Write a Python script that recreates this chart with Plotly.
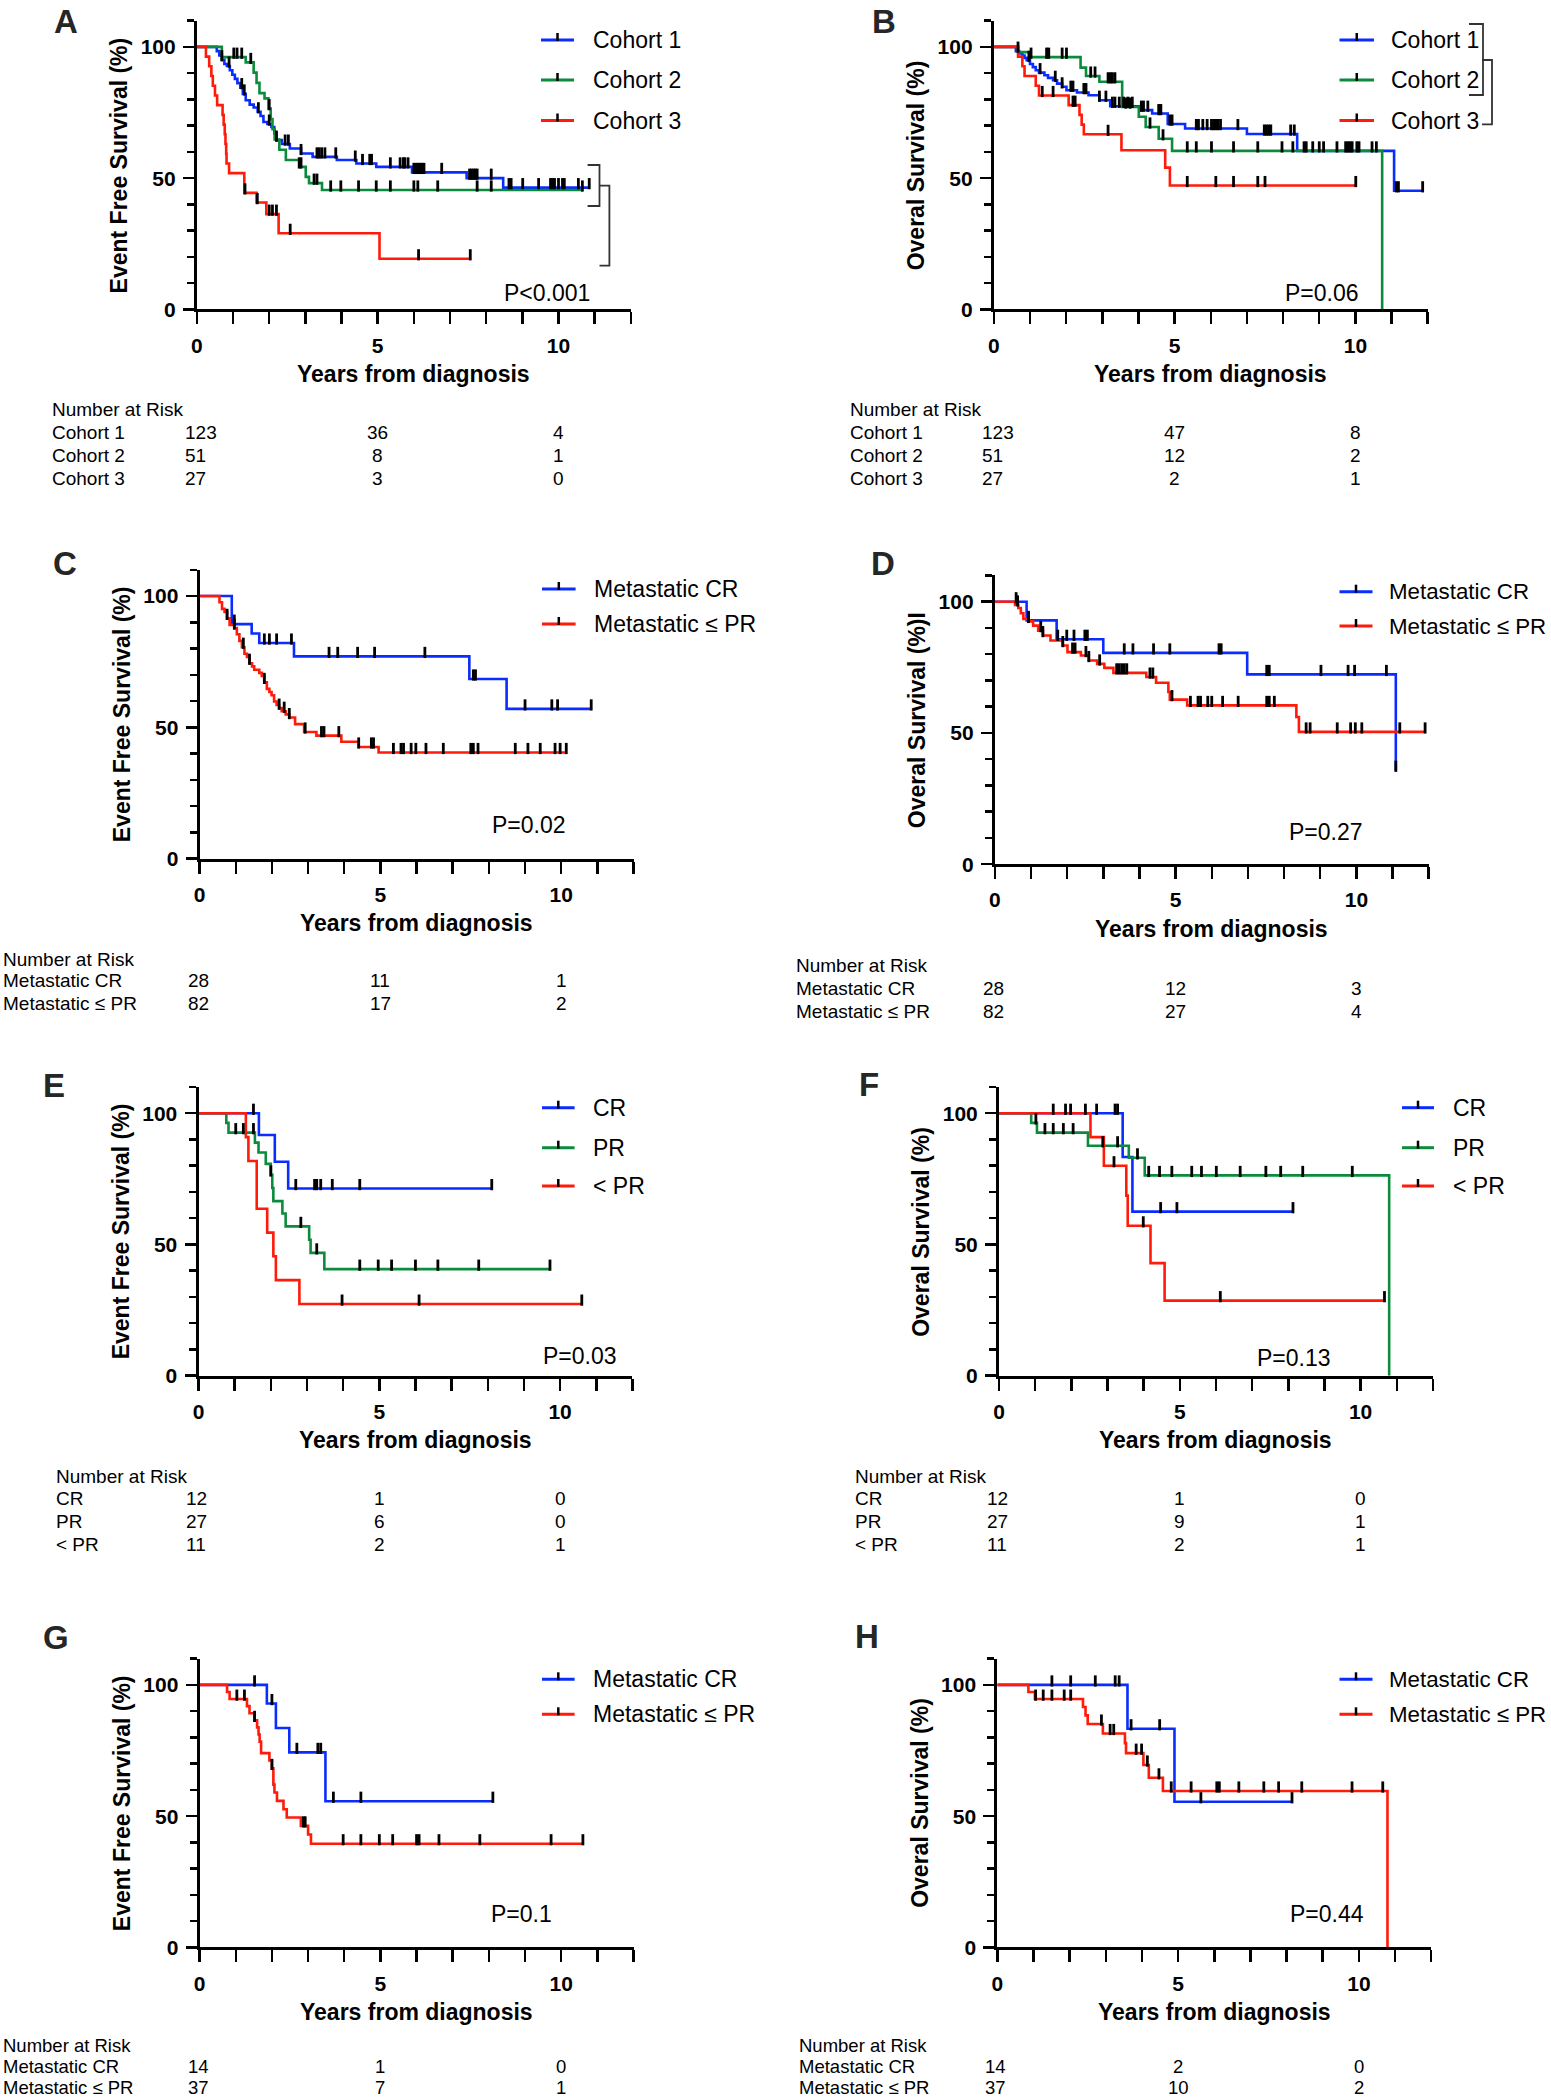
import plotly.graph_objects as go

W, H = 1551, 2100
FONT = "Liberation Sans, Arial, Helvetica, sans-serif"
BLUE, GREEN, RED = "#0a2cff", "#0a8c3c", "#ff1a0a"
PX_PER_YEAR = 36.16
PX_PER_PCT = 2.625
X_MAX, Y_MAX = 12, 110
MARK_LIFT = 1.5

# ---------------- data ----------------
RISK_TIMES = [0, 5, 10]

# Panel A  (EFS by cohort)
A_C1_T = [0, 0.55, 0.62, 0.69, 0.76, 0.83, 0.91, 0.98, 1.05, 1.12, 1.2, 1.27, 1.35, 1.46, 1.57, 1.68, 1.76, 1.84, 1.95, 2.06, 2.14, 2.2, 2.35, 2.57, 2.88, 3.2, 3.87, 4.41, 4.96, 5.95, 7.46, 8.47]
A_C1_S = [100, 98.4, 96.7, 95.1, 93.5, 92.7, 91.1, 89.4, 87.8, 86.2, 84.5, 82.1, 79.7, 78.0, 76.9, 75.3, 73.7, 71.4, 70.6, 69.5, 67.0, 64.5, 63.0, 61.3, 59.4, 58.1, 56.9, 55.6, 54.3, 52.2, 50.0, 46.4]
A_C1_END = 10.85
A_C1_CENS = [0.69, 0.89, 1.24, 1.31, 1.70, 2.0, 2.2, 2.44, 2.53, 2.88, 3.32, 3.38, 3.45, 3.54, 3.84, 4.38, 4.58, 4.78, 4.83, 5.35, 5.62, 5.71, 5.75, 5.84, 6.0, 6.06, 6.11, 6.17, 6.22, 6.28, 6.77, 7.54, 7.59, 7.65, 7.7, 7.75, 8.14, 8.63, 8.69, 9.01, 9.45, 9.78, 9.84, 9.89, 10.0, 10.11, 10.16, 10.55, 10.85]
A_C2_T = [0, 0.69, 1.35, 1.57, 1.65, 1.73, 1.87, 1.98, 2.04, 2.09, 2.15, 2.28, 2.46, 2.83, 3.01, 3.1, 3.46]
A_C2_S = [100, 96.1, 94.1, 90.2, 86.3, 82.4, 80.4, 76.5, 72.5, 68.6, 64.7, 60.8, 56.9, 54.3, 50.5, 48.1, 45.5]
A_C2_END = 10.66
A_C2_CENS = [1.02, 1.11, 1.24, 1.49, 2.0, 2.83, 2.88, 3.24, 3.32, 3.7, 3.98, 4.47, 4.96, 5.35, 6.0, 6.11, 6.66, 7.75, 8.14, 10.66]
A_C3_T = [0, 0.25, 0.34, 0.4, 0.44, 0.5, 0.56, 0.71, 0.74, 0.77, 0.79, 0.81, 0.82, 0.89, 1.31, 1.65, 1.92, 2.26, 5.05]
A_C3_S = [100, 96.3, 92.6, 88.9, 85.2, 81.5, 77.8, 74.1, 70.4, 66.7, 63.0, 59.3, 55.6, 51.9, 44.4, 40.7, 36.3, 29.0, 19.3]
A_C3_END = 7.56
A_C3_CENS = [1.33, 1.67, 2.0, 2.09, 2.2, 2.58, 6.13, 7.56]
A_RISK = [[123, 36, 4], [51, 8, 1], [27, 3, 0]]

# Panel B  (OS by cohort)
B_C1_T = [0, 0.61, 0.7, 0.79, 0.85, 0.91, 1.0, 1.08, 1.16, 1.25, 1.4, 1.5, 1.64, 1.75, 1.89, 2.01, 2.3, 2.62, 2.92, 3.22, 4.08, 4.38, 4.81, 5.29, 7.0, 8.39, 11.07]
B_C1_S = [100, 98.4, 97.5, 96.7, 95.8, 94.9, 93.5, 92.3, 91.1, 90.2, 89.2, 88.2, 87.3, 86.0, 84.8, 83.5, 82.6, 81.6, 79.7, 77.4, 75.9, 74.6, 70.6, 68.9, 66.8, 60.4, 45.2]
B_C1_END = 11.86
B_C1_CENS = [0.67, 0.97, 1.28, 1.70, 1.89, 2.13, 2.19, 2.49, 2.55, 2.92, 3.10, 3.28, 3.35, 3.47, 3.59, 3.71, 3.83, 4.08, 4.14, 4.26, 4.56, 4.62, 4.87, 4.93, 5.60, 5.66, 5.78, 5.90, 6.02, 6.08, 6.14, 6.20, 6.27, 6.75, 7.48, 7.54, 7.60, 7.66, 8.21, 8.31, 8.58, 8.64, 8.82, 9.0, 9.12, 9.49, 9.73, 9.79, 9.85, 9.91, 10.04, 10.10, 10.46, 10.58, 11.13, 11.19, 11.86]
B_C2_T = [0, 0.67, 1.0, 2.4, 2.55, 2.92, 3.55, 4.01, 4.2, 4.56, 4.93, 10.74]
B_C2_S = [100, 98.0, 96.1, 92.1, 88.9, 86.7, 77.1, 73.4, 69.5, 65.0, 60.4, 0]
B_C2_END = 10.74
B_C2_CENS = [1.03, 1.46, 1.52, 1.89, 2.01, 2.68, 2.80, 3.16, 3.22, 3.28, 3.35, 3.65, 3.77, 4.32, 4.68, 5.35, 5.6, 6.02, 6.63, 7.3, 7.97, 8.27]
B_C3_T = [0, 0.67, 0.79, 0.85, 1.16, 1.25, 2.07, 2.37, 2.43, 2.49, 3.53, 4.74, 4.87]
B_C3_S = [100, 96.3, 92.6, 88.9, 85.2, 81.5, 77.8, 74.1, 70.4, 66.7, 60.6, 54.0, 47.2]
B_C3_END = 10.01
B_C3_CENS = [1.34, 1.64, 2.19, 2.25, 3.16, 5.35, 6.14, 6.63, 7.3, 7.5, 10.01]
B_RISK = [[123, 47, 8], [51, 12, 2], [27, 2, 1]]

# Panel C  (EFS, metastatic)
C_C1_T = [0, 0.89, 1.44, 1.65, 2.61, 7.46, 8.49]
C_C1_S = [100, 89.3, 85.7, 82.1, 77.0, 68.4, 57.0]
C_C1_END = 10.83
C_C1_CENS = [0.96, 1.79, 1.93, 2.13, 2.54, 3.58, 3.82, 4.37, 4.84, 6.23, 7.57, 7.63, 9.0, 9.74, 9.9, 10.83]
C_C2_T = [0, 0.55, 0.62, 0.69, 0.76, 0.83, 0.96, 1.03, 1.1, 1.17, 1.24, 1.31, 1.38, 1.45, 1.51, 1.65, 1.72, 1.79, 1.86, 1.93, 1.99, 2.06, 2.13, 2.2, 2.27, 2.38, 2.48, 2.64, 2.89, 3.23, 3.92, 4.4, 4.95]
C_C2_S = [100, 97.6, 95.1, 93.9, 91.5, 89.0, 87.8, 85.4, 82.9, 80.5, 78.0, 76.8, 74.4, 73.2, 71.9, 70.7, 69.5, 67.1, 64.6, 63.4, 62.2, 59.8, 58.5, 57.3, 56.1, 54.9, 53.7, 51.2, 48.2, 46.8, 44.5, 42.5, 40.4]
C_C2_END = 10.14
C_C2_CENS = [0.76, 0.96, 1.21, 1.38, 1.79, 2.2, 2.34, 2.48, 2.92, 3.37, 3.44, 3.85, 4.4, 4.75, 4.81, 5.36, 5.57, 5.64, 5.85, 5.98, 6.26, 6.74, 7.5, 7.57, 7.7, 8.73, 9.08, 9.42, 9.83, 9.97, 10.14]
C_RISK = [[28, 11, 1], [82, 17, 2]]

# Panel D  (OS, metastatic)
D_C1_T = [0, 0.88, 1.71, 3.0, 6.98, 11.09]
D_C1_S = [100, 92.9, 85.7, 80.5, 72.3, 35.8]
D_C1_END = 11.09
D_C1_CENS = [0.59, 0.93, 1.74, 1.99, 2.19, 2.49, 2.56, 3.58, 3.82, 4.39, 4.84, 6.2, 6.26, 7.52, 7.59, 9.02, 9.77, 9.95, 10.83, 11.09]
D_C2_T = [0, 0.56, 0.65, 0.72, 0.79, 0.93, 1.06, 1.2, 1.33, 1.54, 1.88, 2.01, 2.38, 2.6, 2.83, 3.03, 3.28, 4.19, 4.46, 4.8, 4.84, 5.32, 8.34, 8.41]
D_C2_S = [100, 98.8, 97.6, 95.6, 93.4, 92.5, 90.9, 89.0, 87.1, 85.2, 83.3, 80.8, 79.5, 77.6, 76.3, 74.8, 72.9, 71.3, 69.1, 65.6, 62.7, 60.5, 56.1, 50.4]
D_C2_END = 11.9
D_C2_CENS = [0.63, 0.93, 1.27, 1.33, 1.88, 2.15, 2.22, 2.52, 2.6, 2.9, 3.37, 3.44, 3.51, 3.58, 3.65, 4.29, 4.37, 4.9, 5.41, 5.62, 5.69, 5.89, 6.0, 6.3, 6.73, 7.52, 7.59, 7.73, 8.61, 8.72, 9.47, 9.84, 9.97, 10.15, 11.2, 11.9]
D_RISK = [[28, 12, 3], [82, 27, 4]]

# Panel E  (EFS by response)
E_C1_T = [0, 1.67, 2.11, 2.48]
E_C1_S = [100, 91.7, 81.5, 71.3]
E_C1_END = 8.11
E_C1_CENS = [1.52, 2.69, 3.21, 3.27, 3.38, 3.7, 4.46, 8.11]
E_C2_T = [0, 0.77, 0.83, 1.56, 1.66, 1.86, 2.0, 2.04, 2.07, 2.32, 2.41, 3.06, 3.1, 3.48]
E_C2_S = [100, 96.3, 92.6, 88.8, 85.0, 80.7, 76.5, 71.5, 66.5, 61.8, 56.9, 51.8, 46.8, 40.6]
E_C2_END = 9.72
E_C2_CENS = [1.03, 1.24, 1.52, 2.0, 2.83, 3.27, 4.46, 4.97, 5.34, 6.0, 6.62, 7.75, 9.72]
E_C3_T = [0, 1.31, 1.38, 1.61, 1.9, 2.07, 2.14, 2.79]
E_C3_S = [100, 90.9, 81.8, 63.6, 54.5, 45.5, 36.4, 27.3]
E_C3_END = 10.6
E_C3_CENS = [3.97, 6.1, 10.6]
E_RISK = [[12, 1, 0], [27, 6, 0], [11, 2, 1]]

# Panel F  (OS by response)
F_C1_T = [0, 3.42, 3.69]
F_C1_S = [100, 83.3, 62.5]
F_C1_END = 8.13
F_C1_CENS = [1.5, 1.84, 1.98, 2.39, 2.7, 3.21, 3.28, 4.47, 4.92, 8.13]
F_C2_T = [0, 0.89, 1.05, 2.46, 3.59, 4.03, 10.79]
F_C2_S = [100, 96.3, 92.6, 87.6, 83.0, 76.3, 0]
F_C2_END = 10.79
F_C2_CENS = [1.02, 1.27, 1.5, 1.78, 2.05, 2.87, 3.28, 3.83, 4.14, 4.44, 4.78, 5.33, 5.6, 6.01, 6.67, 7.38, 7.79, 8.4, 9.77]
F_C3_T = [0, 2.53, 2.9, 3.52, 3.56, 4.19, 4.58]
F_C3_S = [100, 90.9, 80.0, 68.6, 57.1, 42.9, 28.6]
F_C3_END = 10.66
F_C3_CENS = [3.18, 3.99, 6.12, 10.66]
F_RISK = [[12, 1, 0], [27, 9, 1], [11, 2, 1]]

# Panel G  (EFS, metastatic subset)
G_C1_T = [0, 1.86, 2.11, 2.48, 3.48]
G_C1_S = [100, 92.9, 83.6, 74.3, 55.7]
G_C1_END = 8.11
G_C1_CENS = [1.52, 2.0, 2.69, 3.27, 3.35, 3.7, 4.46, 8.11]
G_C2_T = [0, 0.76, 0.83, 1.31, 1.38, 1.52, 1.59, 1.63, 1.66, 1.7, 1.93, 2.0, 2.04, 2.07, 2.14, 2.32, 2.41, 2.8, 3.0, 3.08]
G_C2_S = [100, 97.3, 94.6, 91.9, 89.2, 86.5, 83.8, 81.1, 78.4, 74.0, 71.2, 68.2, 62.0, 59.0, 55.8, 52.6, 49.5, 46.3, 43.0, 39.5]
G_C2_END = 10.6
G_C2_CENS = [1.03, 1.24, 1.52, 2.0, 2.87, 2.92, 3.97, 4.46, 4.97, 5.34, 6.0, 6.07, 6.62, 7.75, 9.72, 10.6]
G_RISK = [[14, 1, 0], [37, 7, 1]]

# Panel H  (OS, metastatic subset)
H_C1_T = [0, 3.6, 4.9]
H_C1_S = [100, 83.3, 55.5]
H_C1_END = 8.15
H_C1_CENS = [1.51, 2.03, 2.71, 3.26, 3.37, 3.7, 4.49, 5.63, 8.15]
H_C2_T = [0, 0.86, 1.04, 2.37, 2.44, 2.5, 2.92, 3.53, 3.56, 4.04, 4.19, 4.58, 10.79]
H_C2_S = [100, 97.3, 94.6, 91.6, 88.4, 85.1, 81.5, 77.8, 74.0, 69.5, 64.6, 59.6, 0]
H_C2_END = 10.79
H_C2_CENS = [1.06, 1.27, 1.51, 1.85, 2.03, 2.88, 3.12, 3.22, 3.84, 3.99, 4.15, 4.47, 4.81, 5.36, 6.07, 6.14, 6.68, 7.37, 7.78, 8.42, 9.81, 10.66]
H_RISK = [[14, 2, 0], [37, 10, 2]]

COHORT_LABELS = ["Cohort 1", "Cohort 2", "Cohort 3"]
META_LABELS = ["Metastatic CR", "Metastatic \u2264 PR"]
RESP_LABELS = ["CR", "PR", "< PR"]
EFS_TITLE = "Event Free Survival (%)"
OS_TITLE = "Overal Survival (%)"

# ---------------- layout geometry (pixels) ----------------
panels = [
    dict(key="A", x0=196.9, yb=309.4, letter=(65.7, 21), pval="P<0.001", ppos=(547, 293),
         series=[(A_C1_T, A_C1_S, A_C1_END, A_C1_CENS, BLUE), (A_C2_T, A_C2_S, A_C2_END, A_C2_CENS, GREEN), (A_C3_T, A_C3_S, A_C3_END, A_C3_CENS, RED)],
         labels=COHORT_LABELS, ytitle=EFS_TITLE, leg=(541, 574, 590.7, [40, 80, 120.5]), legsize=23,
         table=(49.6, 409.9, [432.6, 455.4, 478.2]), risk=A_RISK, tsize=19),
    dict(key="B", x0=993.8, yb=309.4, letter=(884, 21), pval="P=0.06", ppos=(1321.5, 292.7),
         series=[(B_C1_T, B_C1_S, B_C1_END, B_C1_CENS, BLUE), (B_C2_T, B_C2_S, B_C2_END, B_C2_CENS, GREEN), (B_C3_T, B_C3_S, B_C3_END, B_C3_CENS, RED)],
         labels=COHORT_LABELS, ytitle=OS_TITLE, leg=(1339.5, 1374, 1389, [40, 80, 120.5]), legsize=23,
         table=(847.8, 409.9, [432.6, 455.4, 478.2]), risk=B_RISK, tsize=19),
    dict(key="C", x0=199.6, yb=858.5, letter=(64.7, 563.3), pval="P=0.02", ppos=(529.3, 825),
         series=[(C_C1_T, C_C1_S, C_C1_END, C_C1_CENS, BLUE), (C_C2_T, C_C2_S, C_C2_END, C_C2_CENS, RED)],
         labels=META_LABELS, ytitle=EFS_TITLE, leg=(542, 575.6, 592, [589, 624]), legsize=23,
         table=(1, 959, [980.4, 1003.2]), risk=C_RISK, tsize=19),
    dict(key="D", x0=994.8, yb=864.2, letter=(883.2, 563.3), pval="P=0.27", ppos=(1325.7, 831.7),
         series=[(D_C1_T, D_C1_S, D_C1_END, D_C1_CENS, BLUE), (D_C2_T, D_C2_S, D_C2_END, D_C2_CENS, RED)],
         labels=META_LABELS, ytitle=OS_TITLE + "I", leg=(1339.5, 1372.5, 1387, [591.7, 626]), legsize=22.3,
         table=(794.3, 965.7, [988.5, 1011.2]), risk=D_RISK, tsize=19),
    dict(key="E", x0=198.5, yb=1375.7, letter=(53.7, 1085), pval="P=0.03", ppos=(580, 1356),
         series=[(E_C1_T, E_C1_S, E_C1_END, E_C1_CENS, BLUE), (E_C2_T, E_C2_S, E_C2_END, E_C2_CENS, GREEN), (E_C3_T, E_C3_S, E_C3_END, E_C3_CENS, RED)],
         labels=RESP_LABELS, ytitle=EFS_TITLE, leg=(542, 574.6, 591, [1107.7, 1147.7, 1186]), legsize=23,
         table=(53.6, 1476, [1498.8, 1521.6, 1544.3]), risk=E_RISK, tsize=19),
    dict(key="F", x0=999, yb=1375.7, letter=(868.5, 1084), pval="P=0.13", ppos=(1294.3, 1358.3),
         series=[(F_C1_T, F_C1_S, F_C1_END, F_C1_CENS, BLUE), (F_C2_T, F_C2_S, F_C2_END, F_C2_CENS, GREEN), (F_C3_T, F_C3_S, F_C3_END, F_C3_CENS, RED)],
         labels=RESP_LABELS, ytitle=OS_TITLE, leg=(1402, 1434, 1451, [1107.7, 1147.7, 1186]), legsize=23,
         table=(853.2, 1476, [1498.8, 1521.6, 1544.3]), risk=F_RISK, tsize=19),
    dict(key="G", x0=199.6, yb=1947.4, letter=(55.7, 1637.3), pval="P=0.1", ppos=(521.4, 1914),
         series=[(G_C1_T, G_C1_S, G_C1_END, G_C1_CENS, BLUE), (G_C2_T, G_C2_S, G_C2_END, G_C2_CENS, RED)],
         labels=META_LABELS, ytitle=EFS_TITLE, leg=(542, 574.6, 591, [1679.3, 1714.3]), legsize=23,
         table=(1, 2045, [2066.5, 2087.5]), risk=G_RISK, tsize=18.5),
    dict(key="H", x0=997.3, yb=1947.4, letter=(867.5, 1636.7), pval="P=0.44", ppos=(1326.9, 1914),
         series=[(H_C1_T, H_C1_S, H_C1_END, H_C1_CENS, BLUE), (H_C2_T, H_C2_S, H_C2_END, H_C2_CENS, RED)],
         labels=META_LABELS, ytitle=OS_TITLE, leg=(1339.5, 1372.5, 1387, [1679.3, 1714.3]), legsize=22.3,
         table=(797, 2045, [2066.5, 2087.5]), risk=H_RISK, tsize=18.5),
]

# comparison brackets (pixel polylines)
BRACKETS = [
    [(587.6, 165), (599.5, 165), (599.5, 206), (587.6, 206)],
    [(599.5, 185.7), (609.4, 185.7), (609.4, 265.7), (599.5, 265.7)],
    [(1469, 24), (1483, 24), (1483, 95), (1469, 95)],
    [(1482, 60), (1492, 60), (1492, 124.3), (1482, 124.3)],
]


def fx(p):
    return p / W


def fy(p):
    return 1 - p / H


def step_at(ts, ss, x):
    v = ss[0]
    for t, s in zip(ts, ss):
        if t <= x:
            v = s
        else:
            break
    return v


def km_xy(ts, ss, end):
    xs, ys = list(ts), list(ss)
    if end > xs[-1]:
        xs.append(end)
        ys.append(ss[-1])
    return xs, ys


fig = go.Figure()
annotations = []
shapes = []
layout_axes = {}

for i, p in enumerate(panels, start=1):
    xid = "x" if i == 1 else f"x{i}"
    yid = "y" if i == 1 else f"y{i}"
    xname = "xaxis" if i == 1 else f"xaxis{i}"
    yname = "yaxis" if i == 1 else f"yaxis{i}"
    x0, yb = p["x0"], p["yb"]
    x1 = x0 + X_MAX * PX_PER_YEAR
    ytop = yb - Y_MAX * PX_PER_PCT

    for (ts, ss, end, cens, col) in p["series"]:
        xs, ys = km_xy(ts, ss, end)
        fig.add_trace(go.Scatter(x=xs, y=ys, mode="lines", xaxis=xid, yaxis=yid,
                                 line=dict(shape="hv", color=col, width=2.6),
                                 showlegend=False, hoverinfo="skip"))
    for (ts, ss, end, cens, col) in p["series"]:
        cy = [step_at(ts, ss, c) + MARK_LIFT for c in cens]
        fig.add_trace(go.Scatter(x=cens, y=cy, mode="markers", xaxis=xid, yaxis=yid,
                                 marker=dict(symbol="line-ns", size=8,
                                             line=dict(width=2.8, color="black")),
                                 showlegend=False, hoverinfo="skip", cliponaxis=False))

    tickfont = dict(family=FONT, size=21, color="black", weight="bold")
    layout_axes[xname] = dict(
        domain=[fx(x0), fx(x1)], range=[0, X_MAX], anchor=yid,
        showline=True, linewidth=3, linecolor="black", mirror=False,
        ticks="outside", ticklen=12, tickwidth=2.5, tickcolor="black",
        tickmode="linear", tick0=0, dtick=5, ticklabelstandoff=3,
        minor=dict(ticks="outside", dtick=1, tick0=0, ticklen=12, tickwidth=2.5,
                   tickcolor="black", showgrid=False),
        showgrid=False, zeroline=False, tickfont=tickfont, fixedrange=True)
    layout_axes[yname] = dict(
        domain=[fy(yb), fy(ytop)], range=[0, Y_MAX], anchor=xid,
        showline=True, linewidth=3, linecolor="black",
        ticks="outside", ticklen=11, tickwidth=2.5, tickcolor="black",
        tickmode="linear", tick0=0, dtick=50, ticklabelstandoff=3,
        minor=dict(ticks="outside", dtick=10, tick0=0, ticklen=7, tickwidth=2.5,
                   tickcolor="black", showgrid=False),
        showgrid=False, zeroline=False, tickfont=tickfont, fixedrange=True)

    # axis titles
    annotations.append(dict(x=fx(x0 - 77.5), y=fy((yb + ytop) / 2), xref="paper", yref="paper",
                            text=p["ytitle"], textangle=-90, showarrow=False,
                            xanchor="center", yanchor="middle",
                            font=dict(family=FONT, size=23, color="black", weight="bold")))
    annotations.append(dict(x=fx((x0 + x1) / 2), y=fy(yb + 64.3), xref="paper", yref="paper",
                            text="Years from diagnosis", showarrow=False,
                            xanchor="center", yanchor="middle",
                            font=dict(family=FONT, size=23, color="black", weight="bold")))
    # panel letter
    annotations.append(dict(x=fx(p["letter"][0]), y=fy(p["letter"][1]), xref="paper", yref="paper",
                            text=p["key"], showarrow=False, xanchor="center", yanchor="middle",
                            font=dict(family=FONT, size=33, color="#262626", weight="bold")))
    # p value
    annotations.append(dict(x=fx(p["ppos"][0]), y=fy(p["ppos"][1]), xref="paper", yref="paper",
                            text=p["pval"], showarrow=False, xanchor="center", yanchor="middle",
                            font=dict(family=FONT, size=23, color="black")))
    # legend
    lx0, lx1, tx, rows = p["leg"]
    for (ser, lab, ry) in zip(p["series"], p["labels"], rows):
        col = ser[4]
        shapes.append(dict(type="line", xref="paper", yref="paper",
                           x0=fx(lx0), x1=fx(lx1), y0=fy(ry), y1=fy(ry),
                           line=dict(color=col, width=3)))
        mid = (lx0 + lx1) / 2
        shapes.append(dict(type="line", xref="paper", yref="paper",
                           x0=fx(mid), x1=fx(mid), y0=fy(ry - 7), y1=fy(ry + 1),
                           line=dict(color="black", width=2.5)))
        annotations.append(dict(x=fx(tx), y=fy(ry), xref="paper", yref="paper",
                                text=lab, showarrow=False, xanchor="left", yanchor="middle",
                                font=dict(family=FONT, size=p["legsize"], color="black")))
    # number at risk table
    tlx, hy, rys = p["table"]
    tfont = dict(family=FONT, size=p["tsize"], color="black")
    annotations.append(dict(x=fx(tlx), y=fy(hy), xref="paper", yref="paper", text="Number at Risk",
                            showarrow=False, xanchor="left", yanchor="middle", font=tfont))
    for lab, vals, ry in zip(p["labels"], p["risk"], rys):
        annotations.append(dict(x=fx(tlx), y=fy(ry), xref="paper", yref="paper", text=lab,
                                showarrow=False, xanchor="left", yanchor="middle", font=tfont))
        for j, (tt, v) in enumerate(zip(RISK_TIMES, vals)):
            annotations.append(dict(x=tt, y=fy(ry), xref=xid, yref="paper", text=str(v),
                                    showarrow=False, xanchor="left" if j == 0 else "center",
                                    xshift=-14 if j == 0 else 0,
                                    yanchor="middle", font=tfont))

for br in BRACKETS:
    path = "M " + " L ".join(f"{fx(a):.5f},{fy(b):.5f}" for a, b in br)
    shapes.append(dict(type="path", xref="paper", yref="paper", path=path,
                       line=dict(color="#333333", width=1.8)))

fig.update_layout(
    width=W, height=H, autosize=False,
    margin=dict(l=0, r=0, t=0, b=0),
    paper_bgcolor="white", plot_bgcolor="white",
    showlegend=False, template="none",
    font=dict(family=FONT, color="black"),
    annotations=annotations, shapes=shapes,
    **layout_axes,
)

fig.write_html("out.html",
               config={"displayModeBar": False, "staticPlot": True},
               post_script="document.body.style.margin='0px';document.body.style.padding='0px';"
                           "document.documentElement.style.overflow='hidden';")
